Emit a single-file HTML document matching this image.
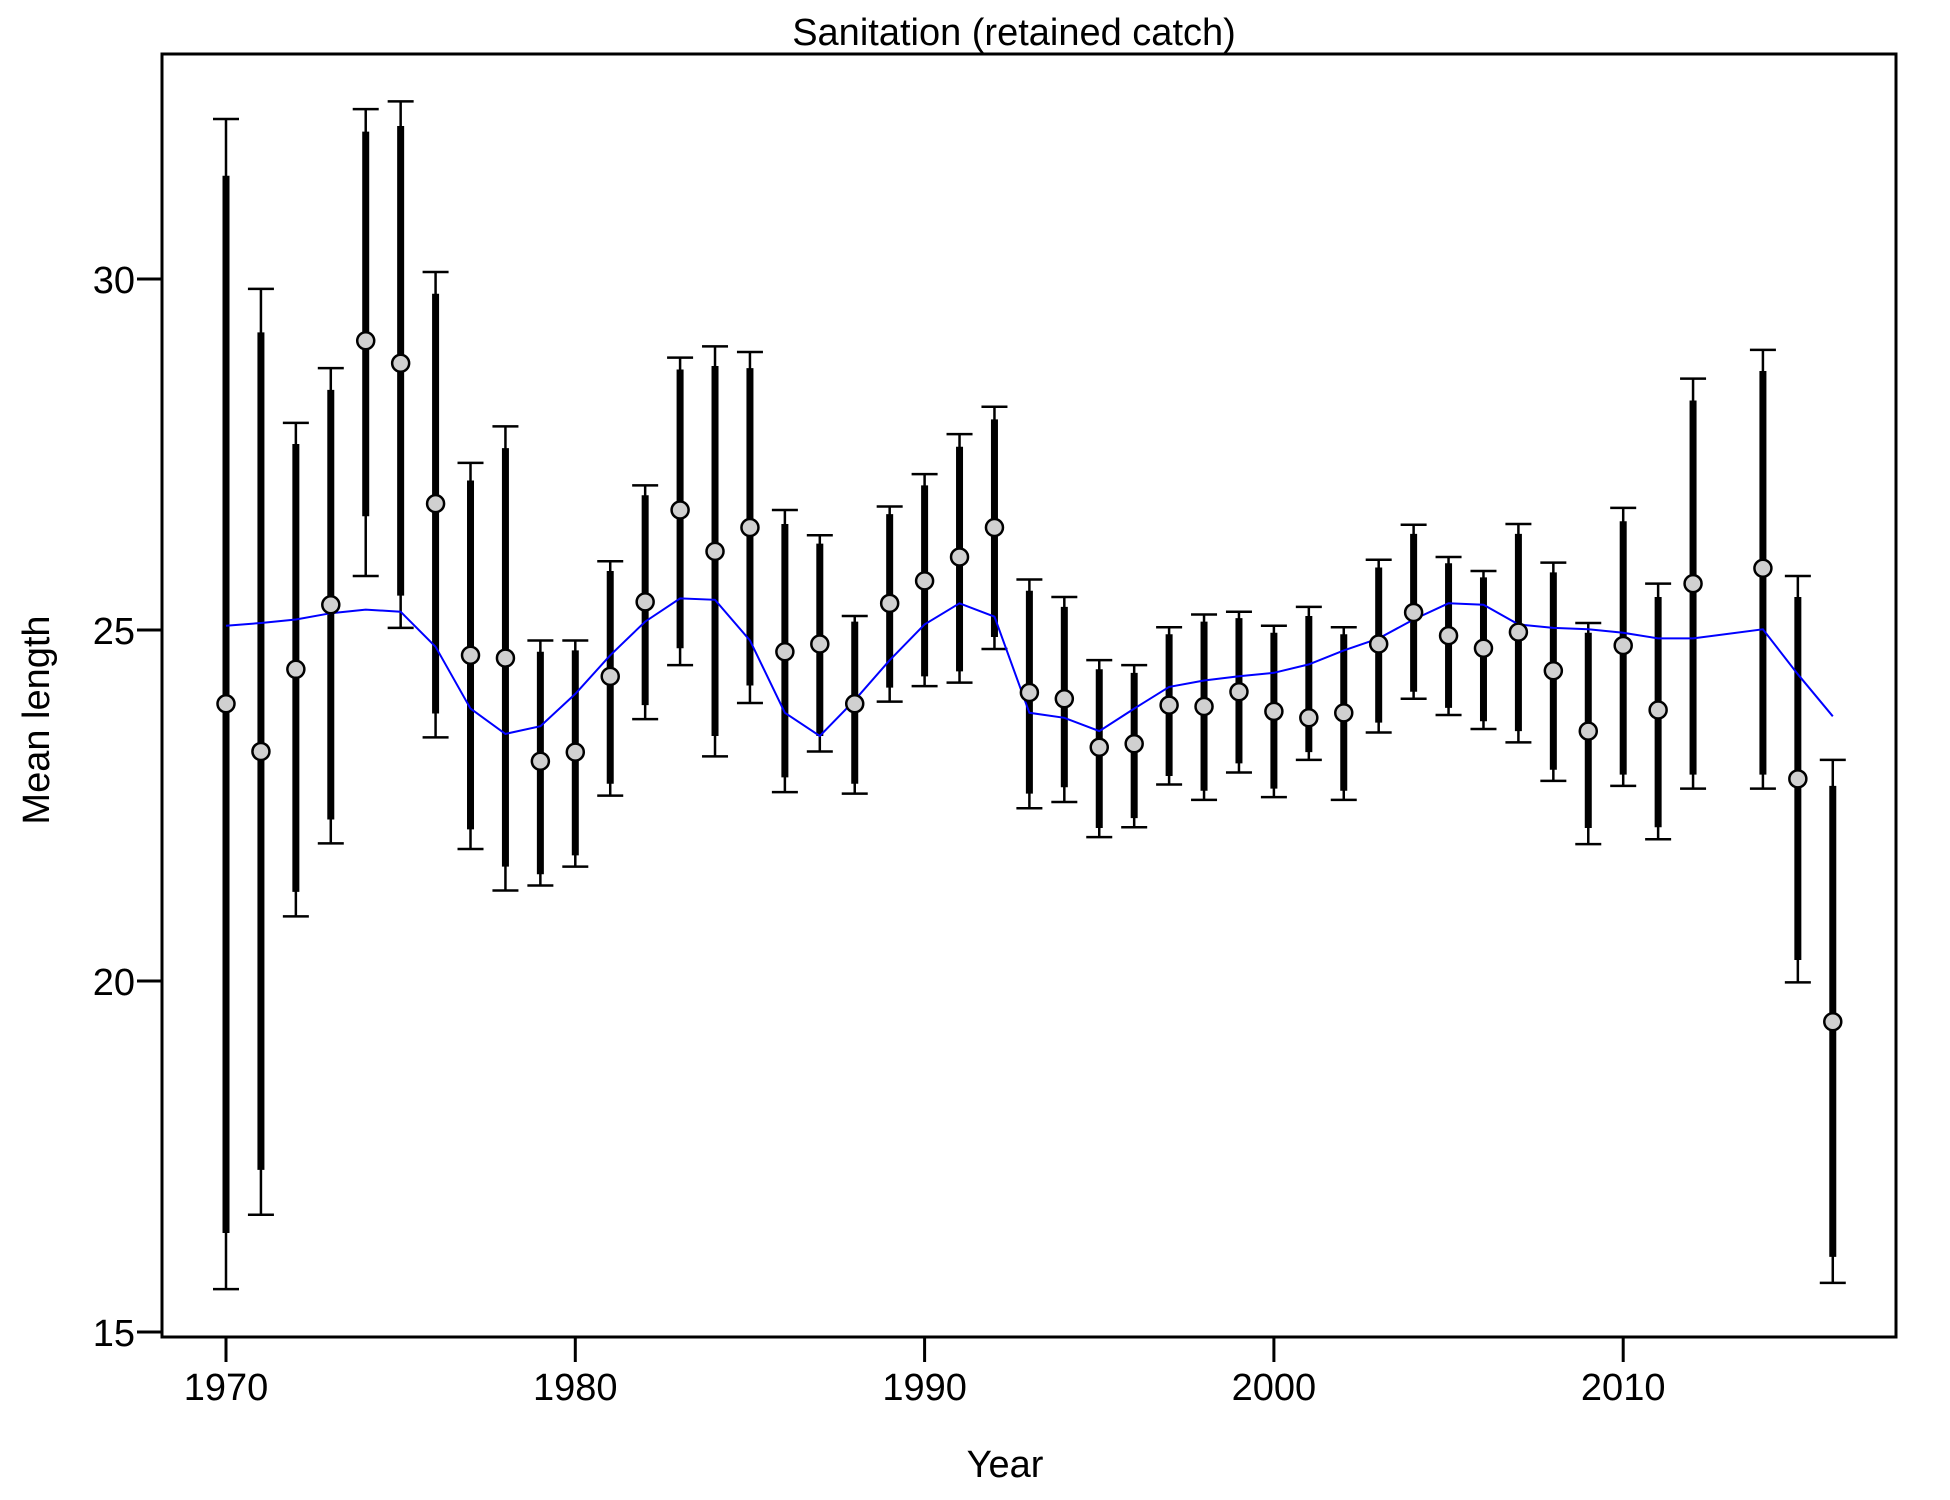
<!DOCTYPE html>
<html><head><meta charset="utf-8"><style>
html,body{margin:0;padding:0;background:#fff;}
svg{display:block;}
text{font-family:"Liberation Sans",Arial,sans-serif;fill:#000;}
</style></head>
<body>
<svg id="chart" width="1950" height="1500" viewBox="0 0 1950 1500">
<rect x="0" y="0" width="1950" height="1500" fill="#fff"/>
<text x="1014" y="45" font-size="38" text-anchor="middle">Sanitation (retained catch)</text>
<text x="1005" y="1477" font-size="38" text-anchor="middle">Year</text>
<text x="0" y="0" font-size="38" text-anchor="middle" transform="translate(49,720) rotate(-90)">Mean length</text>
<g id="axes"></g>
<g id="marks"></g>
<rect x="162" y="54" width="1734" height="1283" fill="none" stroke="#000" stroke-width="3"/>
</svg>
<script>
const years = [1970,1971,1972,1973,1974,1975,1976,1977,1978,1979,1980,1981,1982,1983,1984,1985,1986,1987,1988,1989,1990,1991,1992,1993,1994,1995,1996,1997,1998,1999,2000,2001,2002,2003,2004,2005,2006,2007,2008,2009,2010,2011,2012,2014,2015,2016];
const obsMean = [23.95,23.27,24.44,25.36,29.12,28.8,26.8,24.64,24.6,23.13,23.26,24.34,25.4,26.71,26.12,26.46,24.69,24.8,23.95,25.38,25.7,26.04,26.46,24.11,24.02,23.33,23.38,23.93,23.91,24.12,23.84,23.75,23.82,24.8,25.25,24.92,24.74,24.97,24.42,23.56,24.78,23.86,25.66,25.88,22.88,19.42];
const innerLo = [16.41,17.31,21.27,22.3,26.62,25.49,23.81,22.16,21.63,21.52,21.79,22.81,23.93,24.74,23.49,24.21,22.9,23.49,22.81,24.18,24.34,24.41,24.9,22.67,22.76,22.18,22.32,22.92,22.71,23.1,22.74,23.26,22.71,23.68,24.12,23.89,23.7,23.56,23.01,22.18,22.94,22.19,22.94,22.94,20.3,16.07];
const innerHi = [31.47,29.24,27.65,28.42,32.1,32.18,29.79,27.13,27.59,24.69,24.71,25.84,26.92,28.71,28.76,28.73,26.51,26.23,25.12,26.65,27.06,27.61,28.0,25.56,25.33,24.44,24.39,24.94,25.12,25.17,24.96,25.2,24.94,25.89,26.37,25.95,25.75,26.37,25.82,24.96,26.55,25.47,28.27,28.69,25.47,22.78];
const outerLo = [15.61,16.67,20.92,21.96,25.77,25.03,23.47,21.88,21.29,21.36,21.63,22.64,23.73,24.5,23.2,23.96,22.69,23.27,22.67,23.98,24.2,24.25,24.73,22.46,22.55,22.05,22.19,22.8,22.58,22.97,22.62,23.15,22.58,23.54,24.02,23.79,23.59,23.4,22.85,21.95,22.78,22.02,22.74,22.74,19.98,15.7];
const outerHi = [32.28,29.86,27.95,28.73,32.42,32.53,30.1,27.38,27.9,24.85,24.85,25.98,27.06,28.88,29.04,28.96,26.71,26.35,25.2,26.76,27.22,27.79,28.18,25.72,25.47,24.57,24.5,25.04,25.22,25.26,25.06,25.33,25.04,26.0,26.5,26.04,25.84,26.51,25.96,25.1,26.74,25.66,28.58,28.99,25.77,23.15];
const expMean = [25.06,25.1,25.15,25.24,25.29,25.26,24.76,23.88,23.52,23.63,24.09,24.64,25.12,25.45,25.43,24.85,23.82,23.49,24.0,24.57,25.08,25.38,25.19,23.82,23.75,23.56,23.88,24.19,24.28,24.34,24.39,24.51,24.71,24.88,25.15,25.38,25.36,25.08,25.03,25.01,24.96,24.88,24.88,25.01,24.37,23.77];
const xTicks = [1970,1980,1990,2000,2010];
const yTicks = [15,20,25,30];

const NS = 'http://www.w3.org/2000/svg';
function X(yr){ return 226 + (yr-1970)*34.93; }
function Y(v){ return 279 + (30-v)*70.2; }
function mk(parent, tag, attrs){
  const e = document.createElementNS(NS, tag);
  for (const k in attrs) e.setAttribute(k, attrs[k]);
  parent.appendChild(e);
  return e;
}
const axes = document.getElementById('axes');
const marks = document.getElementById('marks');

xTicks.forEach(t => {
  const l = mk(axes,'line',{x1:X(t),x2:X(t),y1:1337,y2:1362,stroke:'#000','stroke-width':3});
  
  
  const tx = mk(axes,'text',{x:X(t),y:1400,'font-size':38,'text-anchor':'middle'});
  tx.textContent = t;
  
  
});
yTicks.forEach(t => {
  const l = mk(axes,'line',{x1:137,x2:162,y1:Y(t),y2:Y(t),stroke:'#000','stroke-width':3});
  
  
  const tx = mk(axes,'text',{x:135,y:Y(t)+14,'font-size':38,'text-anchor':'end'});
  tx.textContent = t;
  
  
});

years.forEach((yr,i) => {
  const x = X(yr);
  const w = mk(marks,'line',{x1:x,x2:x,y1:Y(outerHi[i]),y2:Y(outerLo[i]),stroke:'#000','stroke-width':2.5});
  
  
  [outerHi[i],outerLo[i]].forEach(v => {
    const c = mk(marks,'line',{x1:x-13,x2:x+13,y1:Y(v),y2:Y(v),stroke:'#000','stroke-width':2.5});
    
    
  });
  const b = mk(marks,'line',{x1:x,x2:x,y1:Y(innerHi[i]),y2:Y(innerLo[i]),stroke:'#000','stroke-width':7});
  
  
});

const pts = years.map((yr,i) => X(yr).toFixed(1)+','+Y(expMean[i]).toFixed(1)).join(' ');
const pl = mk(marks,'polyline',{points:pts,fill:'none',stroke:'#0000ff','stroke-width':2});



years.forEach((yr,i) => {
  const c = mk(marks,'circle',{cx:X(yr),cy:Y(obsMean[i]),r:8.5,fill:'#d0d0d0',stroke:'#000','stroke-width':2.5});
  
  
});
</script>
</body></html>
